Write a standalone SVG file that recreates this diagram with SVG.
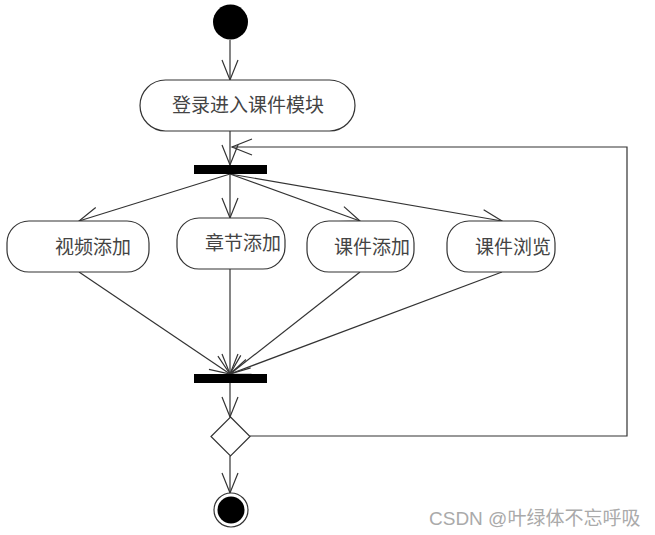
<svg xmlns="http://www.w3.org/2000/svg" width="655" height="535" viewBox="0 0 655 535">
<style>
.ln{stroke:#333;stroke-width:1.2;fill:none}
.box{fill:#fff;stroke:#333;stroke-width:1.2}
.t{font-family:"Noto Sans CJK SC","Liberation Sans",sans-serif;font-size:19px;fill:#444;text-anchor:middle}
.bar{fill:#000}
.wm{font-family:"Liberation Sans","Noto Sans CJK SC",sans-serif;font-size:19px;fill:#aaa}
</style>
<defs>
<marker id="a" markerUnits="userSpaceOnUse" markerWidth="30" markerHeight="30" viewBox="-25 -12 30 24" refX="0" refY="0" orient="auto">
<path d="M-20,-8 L0,0 L-20,8" fill="none" stroke="#333" stroke-width="1.2"/>
</marker>
</defs>
<rect width="655" height="535" fill="#fff"/>
<g id="connectors">
<line class="ln" x1="230" y1="40" x2="230" y2="80" marker-end="url(#a)"/>
<line class="ln" x1="230" y1="131" x2="230" y2="165" marker-end="url(#a)"/>
<polyline class="ln" points="250,436 627,436 627,147 232,147" marker-end="url(#a)"/>
<line class="ln" x1="230" y1="174" x2="79" y2="221" marker-end="url(#a)"/>
<line class="ln" x1="230" y1="174" x2="230" y2="218" marker-end="url(#a)"/>
<line class="ln" x1="230" y1="174" x2="360" y2="221" marker-end="url(#a)"/>
<line class="ln" x1="230" y1="174" x2="502" y2="221" marker-end="url(#a)"/>
<line class="ln" x1="79" y1="272" x2="230" y2="374" marker-end="url(#a)"/>
<line class="ln" x1="230" y1="269" x2="230" y2="374" marker-end="url(#a)"/>
<line class="ln" x1="360" y1="272" x2="230" y2="374" marker-end="url(#a)"/>
<line class="ln" x1="502" y1="272" x2="230" y2="374" marker-end="url(#a)"/>
<line class="ln" x1="230" y1="383" x2="230" y2="417" marker-end="url(#a)"/>
<line class="ln" x1="230" y1="456" x2="230" y2="493" marker-end="url(#a)"/>
</g>
<g id="start"><circle cx="230.5" cy="22" r="17.5" fill="#000"/></g>
<g id="login"><rect class="box" x="140" y="80" width="215" height="51" rx="25.5"/><text class="t" x="248" y="112">登录进入课件模块</text></g>
<g id="fork"><rect class="bar" x="194" y="165" width="73" height="9"/></g>
<g id="video"><rect class="box" x="7" y="221" width="142" height="51" rx="22"/><text class="t" x="93" y="254">视频添加</text></g>
<g id="chapter"><rect class="box" x="177" y="218" width="108" height="51" rx="22"/><text class="t" x="243" y="250">章节添加</text></g>
<g id="courseadd"><rect class="box" x="307" y="221" width="107" height="51" rx="22"/><text class="t" x="372" y="254">课件添加</text></g>
<g id="browse"><rect class="box" x="447" y="221" width="108" height="51" rx="22"/><text class="t" x="513" y="254">课件浏览</text></g>
<g id="join"><rect class="bar" x="194" y="374" width="73" height="9"/></g>
<g id="decision"><polygon class="box" points="230.5,417 250,436.5 230.5,456 211,436.5"/></g>
<g id="end"><circle cx="231" cy="510" r="17" fill="#fff" stroke="#333" stroke-width="1.2"/><circle cx="231" cy="510" r="13.5" fill="#000"/></g>
<text class="wm" x="429" y="525">CSDN @叶绿体不忘呼吸</text>
</svg>
